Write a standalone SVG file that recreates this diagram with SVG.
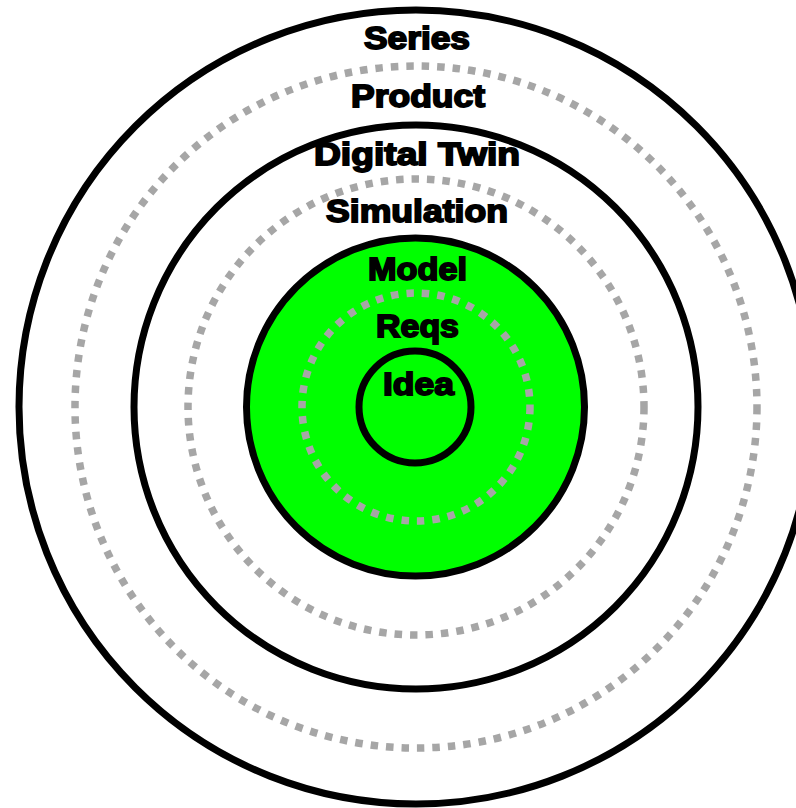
<svg xmlns="http://www.w3.org/2000/svg" width="796" height="808" viewBox="0 0 796 808">
<style>
.solid{fill:none;stroke:#000;stroke-width:7}
.dot{fill:none;stroke:#A6A6A6;stroke-width:7.5;stroke-dasharray:7.5 8}
.lbl{font-family:"Liberation Sans",Arial,sans-serif;font-weight:bold;font-size:32px;fill:#000;stroke:#000;stroke-width:1.8;text-anchor:middle}
</style>
<rect width="796" height="808" fill="#fff"/>
<g id="series"><circle class="solid" cx="416" cy="407" r="397"/><text class="lbl" x="417" y="49" textLength="106" lengthAdjust="spacingAndGlyphs">Series</text></g>
<g id="product"><circle class="dot" cx="416" cy="407" r="341"/><text class="lbl" x="418" y="107" textLength="134" lengthAdjust="spacingAndGlyphs">Product</text></g>
<g id="digital-twin"><circle class="solid" cx="416" cy="407" r="282"/><text class="lbl" x="417" y="165" textLength="206" lengthAdjust="spacingAndGlyphs">Digital Twin</text></g>
<g id="simulation"><circle class="dot" cx="416" cy="407" r="228"/><text class="lbl" x="417" y="222" textLength="182" lengthAdjust="spacingAndGlyphs">Simulation</text></g>
<g id="model"><circle class="solid" cx="415.5" cy="407" r="169" style="fill:#00FF00"/><text class="lbl" x="417.5" y="280" textLength="99" lengthAdjust="spacingAndGlyphs">Model</text></g>
<g id="reqs"><circle class="dot" cx="416" cy="407" r="114"/><text class="lbl" x="417.5" y="337" textLength="83" lengthAdjust="spacingAndGlyphs">Reqs</text></g>
<g id="idea"><circle class="solid" cx="415" cy="407" r="56"/><text class="lbl" x="418.5" y="395" textLength="71" lengthAdjust="spacingAndGlyphs">Idea</text></g>
<g id="connectors"/>
</svg>
